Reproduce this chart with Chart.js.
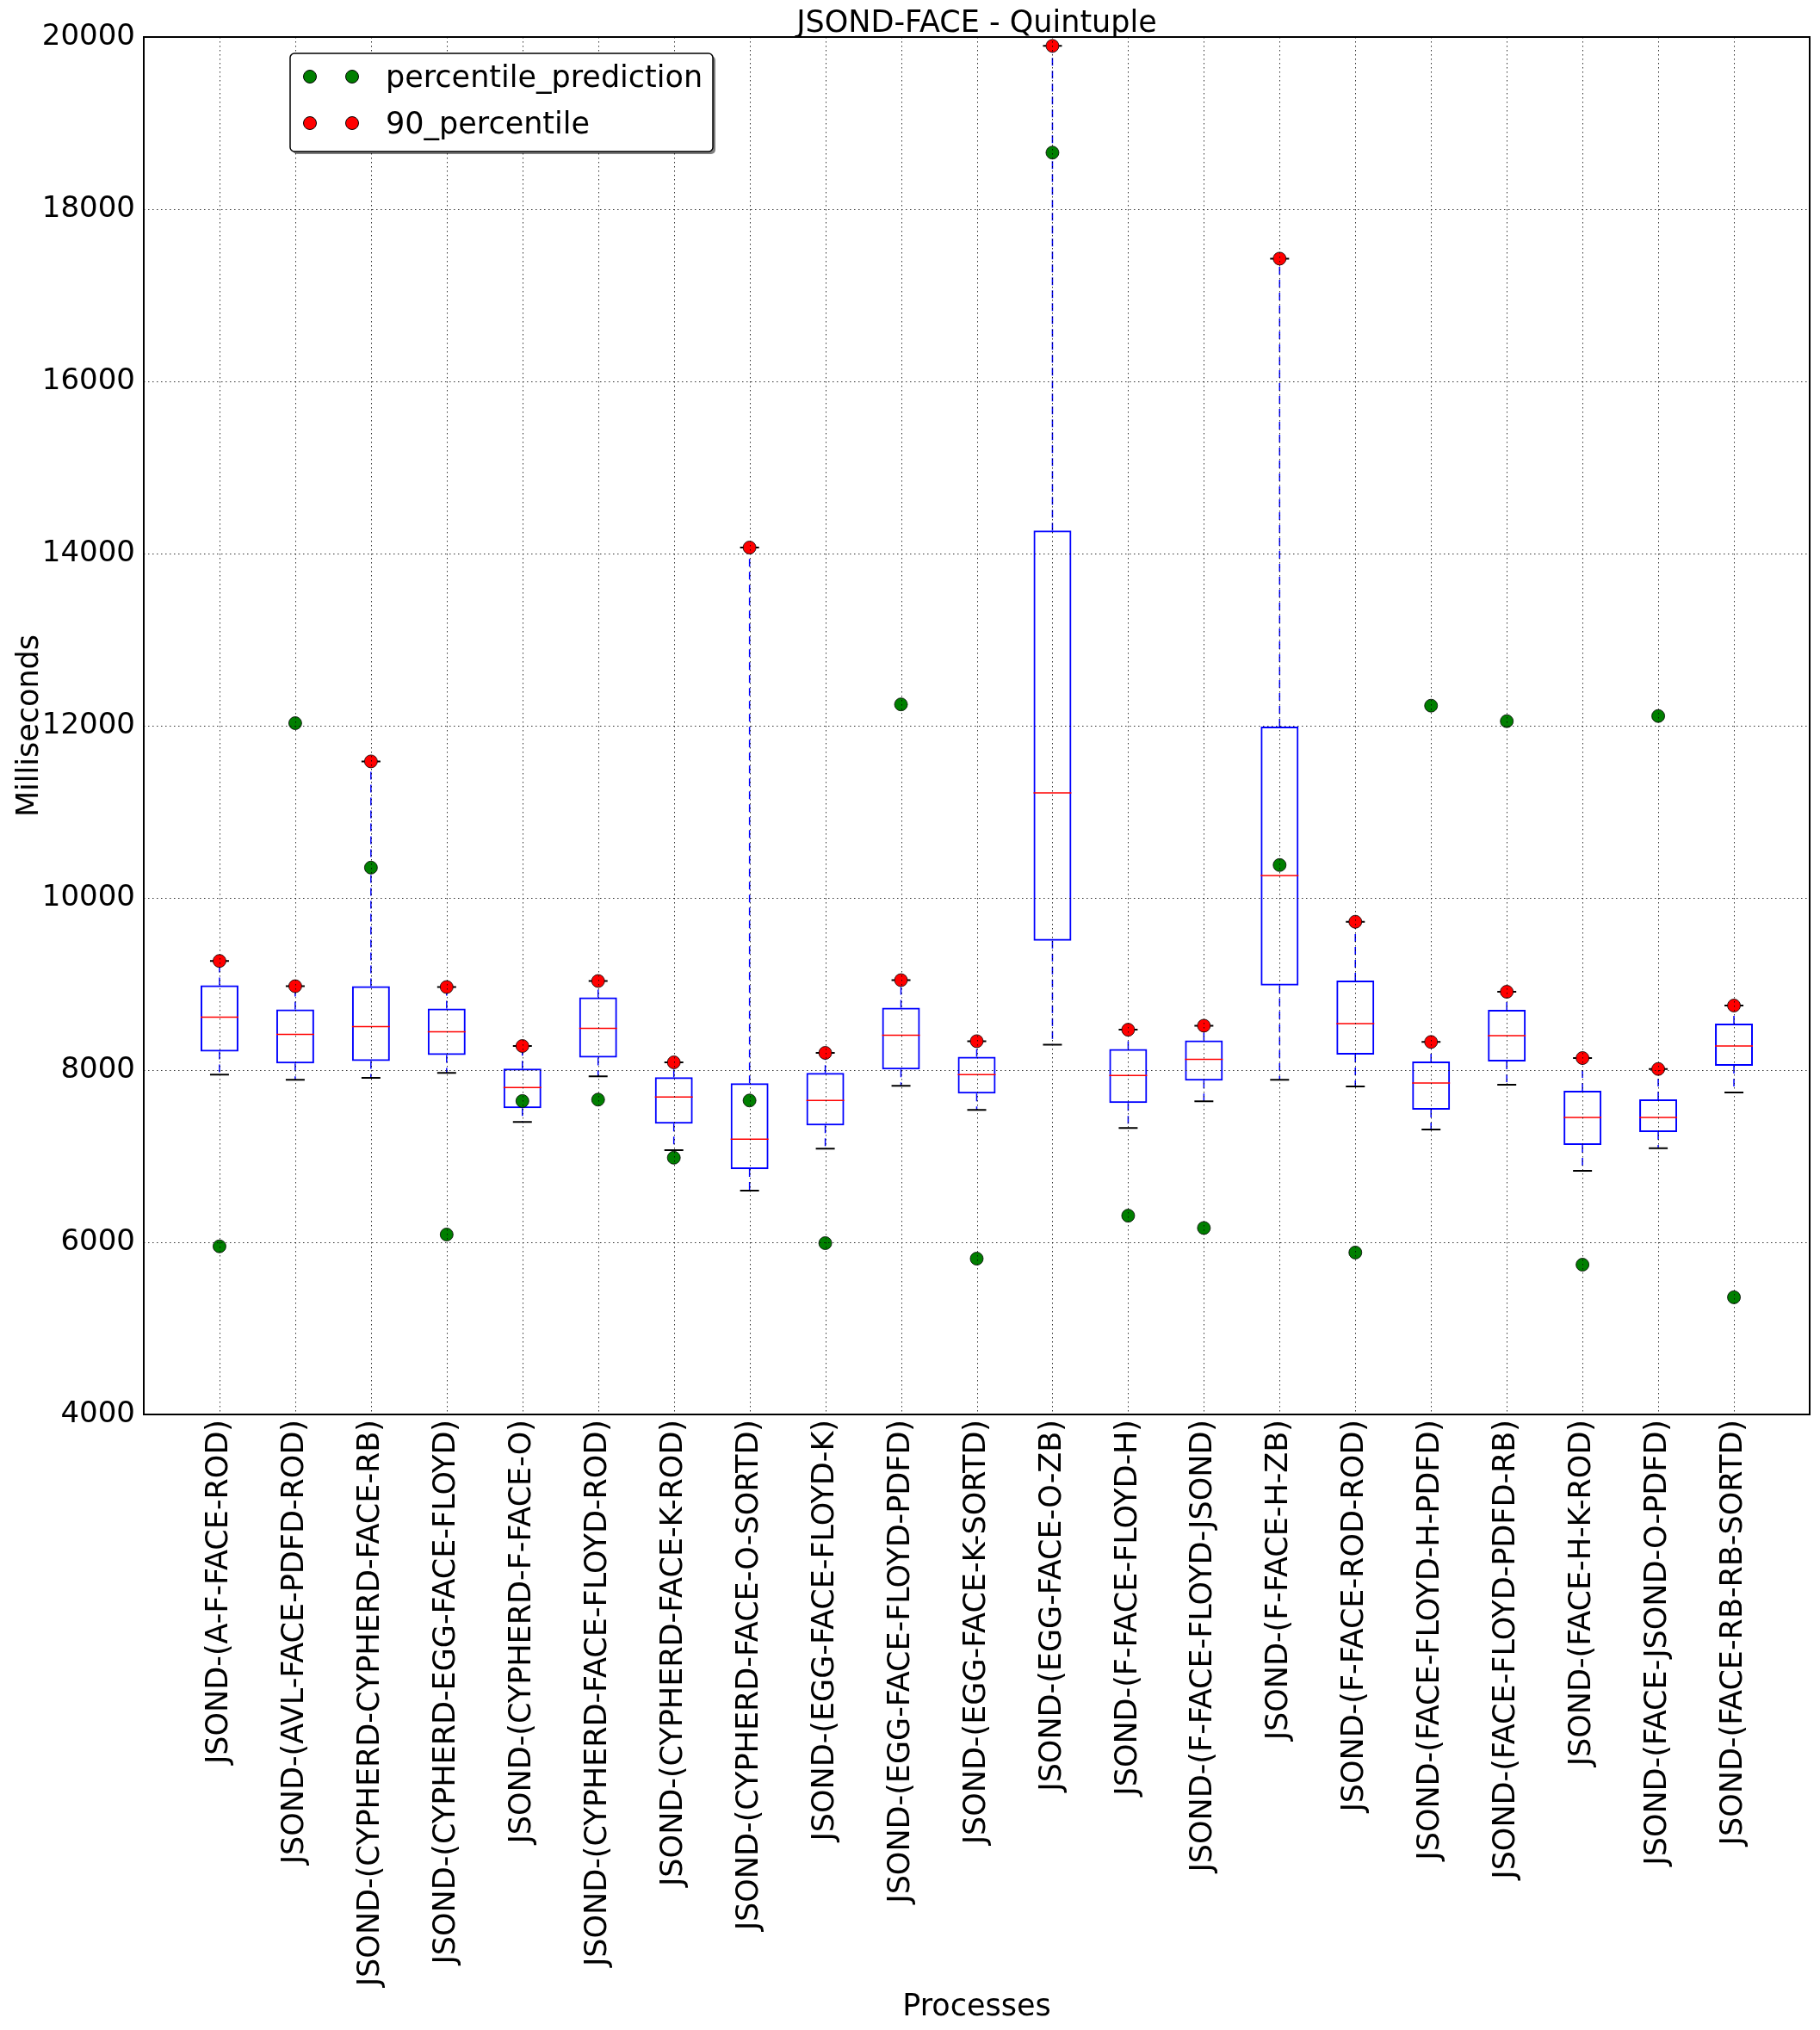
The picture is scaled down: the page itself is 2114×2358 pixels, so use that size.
<!DOCTYPE html>
<html>
<head>
<meta charset="utf-8">
<title>JSOND-FACE - Quintuple</title>
<script src="https://cdn.jsdelivr.net/npm/chart.js@4.4.1/dist/chart.umd.min.js"></script>
<style>
  html, body { margin: 0; padding: 0; background: #fff; }
  #wrap { width: 2114px; height: 2358px; }
</style>
</head>
<body>
<div id="wrap"><canvas id="chart" width="2114" height="2358"></canvas></div>
<script>
// process names (x axis)
const categories = [
  'JSOND-(A-F-FACE-ROD)',
  'JSOND-(AVL-FACE-PDFD-ROD)',
  'JSOND-(CYPHERD-CYPHERD-FACE-RB)',
  'JSOND-(CYPHERD-EGG-FACE-FLOYD)',
  'JSOND-(CYPHERD-F-FACE-O)',
  'JSOND-(CYPHERD-FACE-FLOYD-ROD)',
  'JSOND-(CYPHERD-FACE-K-ROD)',
  'JSOND-(CYPHERD-FACE-O-SORTD)',
  'JSOND-(EGG-FACE-FLOYD-K)',
  'JSOND-(EGG-FACE-FLOYD-PDFD)',
  'JSOND-(EGG-FACE-K-SORTD)',
  'JSOND-(EGG-FACE-O-ZB)',
  'JSOND-(F-FACE-FLOYD-H)',
  'JSOND-(F-FACE-FLOYD-JSOND)',
  'JSOND-(F-FACE-H-ZB)',
  'JSOND-(F-FACE-ROD-ROD)',
  'JSOND-(FACE-FLOYD-H-PDFD)',
  'JSOND-(FACE-FLOYD-PDFD-RB)',
  'JSOND-(FACE-H-K-ROD)',
  'JSOND-(FACE-JSOND-O-PDFD)',
  'JSOND-(FACE-RB-RB-SORTD)'
];

// box plot stats (milliseconds)
const whiskerLow  = [7947, 7887, 7910, 7967, 7398, 7927, 7071, 6599, 7088, 7817, 7537, 8296, 7328, 7637, 7887, 7810, 7310, 7830, 6830, 7093, 7740];
const q1          = [8216, 8077, 8106, 8176, 7557, 8146, 7378, 6849, 7358, 8007, 7727, 9503, 7617, 7877, 8983, 8180, 7540, 8100, 7130, 7280, 8050];
const median      = [8616, 8416, 8506, 8446, 7797, 8486, 7687, 7198, 7647, 8406, 7947, 11220, 7937, 8126, 10260, 8540, 7850, 8400, 7450, 7450, 8280];
const q3          = [8985, 8706, 8975, 8716, 8017, 8845, 7917, 7847, 7967, 8726, 8156, 14268, 8246, 8346, 11989, 9040, 8100, 8700, 7760, 7660, 8540];
const whiskerHigh = [9268, 8975, 11586, 8965, 8280, 9035, 8090, 14070, 8200, 9045, 8336, 19897, 8469, 8516, 17426, 9723, 8327, 8910, 8140, 8013, 8750];

// scatter series
const percentilePrediction = [5953, 12030, 10352, 6090, 7641, 7657, 6982, 7647, 5990, 12248, 5810, 18657, 6309, 6166, 10382, 5881, 12233, 12053, 5740, 12113, 5361];
const percentile90         = [9268, 8975, 11586, 8965, 8280, 9035, 8090, 14070, 8200, 9045, 8336, 19897, 8469, 8516, 17426, 9723, 8327, 8910, 8140, 8013, 8750];

const yTicks = [4000, 6000, 8000, 10000, 12000, 14000, 16000, 18000, 20000];

const FONT = '"DejaVu Sans", sans-serif';
const GREEN = '#007f00';
const RED = '#ff0000';

// whiskers, caps and medians, drawn right after the boxes
const boxParts = {
  id: 'boxParts',
  afterDatasetDraw(chart, args) {
    if (args.index !== 0) return;
    const ctx = chart.ctx;
    const xs = chart.scales.x, ys = chart.scales.y;
    const halfBox = xs.getPixelForValue(1.25) - xs.getPixelForValue(1);
    const halfCap = halfBox / 2;
    ctx.save();
    categories.forEach((c, i) => {
      const x = xs.getPixelForValue(i + 1);
      // dashed whiskers
      ctx.strokeStyle = '#0000ff';
      ctx.lineWidth = 1.5;
      ctx.setLineDash([9, 6]);
      ctx.beginPath();
      ctx.moveTo(x, ys.getPixelForValue(q3[i]));
      ctx.lineTo(x, ys.getPixelForValue(whiskerHigh[i]));
      ctx.moveTo(x, ys.getPixelForValue(q1[i]));
      ctx.lineTo(x, ys.getPixelForValue(whiskerLow[i]));
      ctx.stroke();
      ctx.setLineDash([]);
      // caps
      ctx.strokeStyle = '#000';
      ctx.lineWidth = 2;
      ctx.beginPath();
      [whiskerLow[i], whiskerHigh[i]].forEach(v => {
        const y = ys.getPixelForValue(v);
        ctx.moveTo(x - halfCap, y);
        ctx.lineTo(x + halfCap, y);
      });
      ctx.stroke();
      // median
      ctx.strokeStyle = RED;
      ctx.lineWidth = 1.5;
      ctx.beginPath();
      const ym = ys.getPixelForValue(median[i]);
      ctx.moveTo(x - halfBox, ym);
      ctx.lineTo(x + halfBox, ym);
      ctx.stroke();
    });
    ctx.restore();
  }
};

// grid goes over the data (classic matplotlib look), then the frame
const gridFrame = {
  id: 'gridFrame',
  afterDatasetsDraw(chart) {
    const ctx = chart.ctx;
    const a = chart.chartArea;
    const xs = chart.scales.x, ys = chart.scales.y;
    ctx.save();
    ctx.strokeStyle = 'rgba(0,0,0,0.8)';
    ctx.lineWidth = 1;
    ctx.setLineDash([1.5, 3.5]);
    ctx.beginPath();
    categories.forEach((c, i) => {
      const x = Math.round(xs.getPixelForValue(i + 1)) + 0.5;
      ctx.moveTo(x, a.top);
      ctx.lineTo(x, a.bottom);
    });
    yTicks.forEach(v => {
      const y = Math.round(ys.getPixelForValue(v)) + 0.5;
      ctx.moveTo(a.left, y);
      ctx.lineTo(a.right, y);
    });
    ctx.stroke();
    ctx.setLineDash([]);
    ctx.strokeStyle = '#000';
    ctx.lineWidth = 2;
    ctx.strokeRect(a.left, a.top, a.right - a.left, a.bottom - a.top);
    ctx.restore();
  },
  afterDraw(chart) {
    const ctx = chart.ctx;
    const a = chart.chartArea;
    ctx.save();
    ctx.fillStyle = '#000';
    ctx.font = '35px ' + FONT;
    ctx.textAlign = 'center';
    ctx.textBaseline = 'alphabetic';
    ctx.fillText('JSOND-FACE - Quintuple', (a.left + a.right) / 2, 37);
    ctx.fillText('Processes', (a.left + a.right) / 2, 2341);
    ctx.save();
    ctx.translate(44, (a.top + a.bottom) / 2);
    ctx.rotate(-Math.PI / 2);
    ctx.fillText('Milliseconds', 0, 0);
    ctx.restore();

    // legend box
    const lx = 337, ly = 62, lw = 491, lh = 114;
    ctx.fillStyle = 'rgba(0,0,0,0.5)';
    ctx.beginPath();
    ctx.roundRect(lx + 3, ly + 3, lw, lh, 5);
    ctx.fill();
    ctx.fillStyle = '#fff';
    ctx.strokeStyle = '#000';
    ctx.lineWidth = 1.5;
    ctx.beginPath();
    ctx.roundRect(lx, ly, lw, lh, 5);
    ctx.fill();
    ctx.stroke();
    const rows = [
      { label: 'percentile_prediction', color: GREEN, cy: 89, base: 101 },
      { label: '90_percentile', color: RED, cy: 143, base: 155 }
    ];
    rows.forEach(r => {
      [360, 409].forEach(mx => {
        ctx.beginPath();
        ctx.arc(mx, r.cy, 7.5, 0, Math.PI * 2);
        ctx.fillStyle = r.color;
        ctx.fill();
        ctx.lineWidth = 1;
        ctx.strokeStyle = '#000';
        ctx.stroke();
      });
      ctx.fillStyle = '#000';
      ctx.textAlign = 'left';
      ctx.fillText(r.label, 448, r.base);
    });
    ctx.restore();
  }
};

new Chart(document.getElementById('chart'), {
  type: 'bar',
  data: {
    datasets: [
      {
        label: 'box',
        order: 10,
        data: categories.map((c, i) => ({ x: i + 1, y: [q1[i], q3[i]] })),
        backgroundColor: 'rgba(0,0,0,0)',
        borderColor: '#0000ff',
        borderWidth: 2,
        borderSkipped: false,
        barPercentage: 0.5,
        categoryPercentage: 1
      },
      {
        type: 'scatter',
        label: 'percentile_prediction',
        order: 2,
        data: categories.map((c, i) => ({ x: i + 1, y: percentilePrediction[i] })),
        pointRadius: 7.5,
        pointBackgroundColor: GREEN,
        pointBorderColor: '#000',
        pointBorderWidth: 0.8
      },
      {
        type: 'scatter',
        label: '90_percentile',
        order: 1,
        data: categories.map((c, i) => ({ x: i + 1, y: percentile90[i] })),
        pointRadius: 7.5,
        pointBackgroundColor: RED,
        pointBorderColor: '#000',
        pointBorderWidth: 0.8
      }
    ]
  },
  options: {
    responsive: false,
    animation: false,
    devicePixelRatio: 1,
    layout: { padding: { top: 43, right: 12, left: 0, bottom: 0 } },
    plugins: {
      legend: { display: false },
      tooltip: { enabled: false },
      title: { display: false }
    },
    scales: {
      x: {
        type: 'linear',
        position: 'bottom',
        min: 0,
        max: 22,
        offset: false,
        grid: { display: false, drawTicks: false, offset: false },
        border: { display: false },
        afterBuildTicks(scale) {
          scale.ticks = categories.map((c, i) => ({ value: i + 1 }));
        },
        afterFit(scale) { scale.height = 715; },
        ticks: {
          autoSkip: false,
          maxRotation: 90,
          minRotation: 90,
          padding: 6,
          color: '#000',
          font: { family: FONT, size: 35 },
          callback: v => categories[v - 1]
        }
      },
      y: {
        type: 'linear',
        min: 4000,
        max: 20000,
        grid: { display: false, drawTicks: false },
        border: { display: false },
        afterFit(scale) { scale.width = 167; },
        ticks: {
          stepSize: 2000,
          padding: 10,
          color: '#000',
          font: { family: FONT, size: 34 },
          callback: v => String(v)
        }
      }
    }
  },
  plugins: [boxParts, gridFrame]
});
</script>
</body>
</html>
